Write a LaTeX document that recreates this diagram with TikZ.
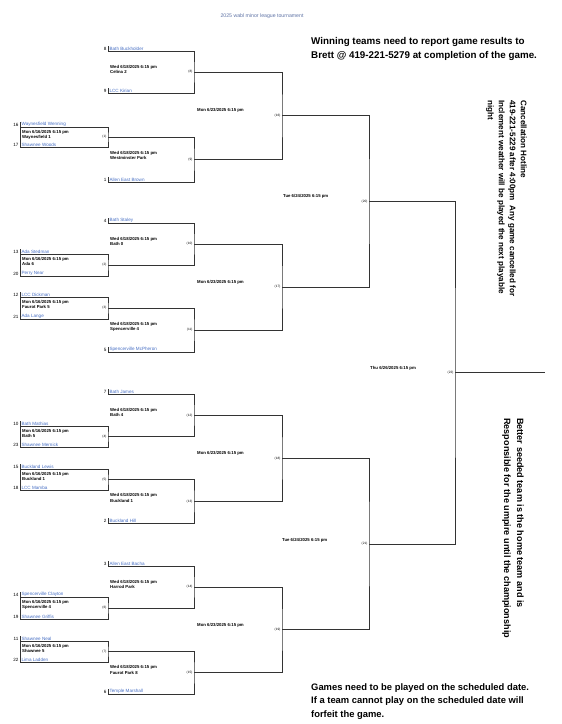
\documentclass[tikz,border=0pt]{standalone}
\usepackage{fontspec}
\setmainfont{Liberation Sans}
\definecolor{teamblue}{RGB}{70,110,195}
\definecolor{titleblue}{RGB}{95,115,165}
\newcommand{\playintime}{Mon 6/16/2025 6:15 pm}
\newcommand{\wedtime}{Wed 6/18/2025 6:15 pm}
\newcommand{\montime}{Mon 6/23/2025 6:15 pm}
\newcommand{\tuetime}{Tue 6/24/2025 6:15 pm}
\newcommand{\thutime}{Thu 6/26/2025 6:15 pm}
\tikzset{
  bline/.style={black!80, line width=0.9pt},
  team/.style={font=\fontsize{4.6}{5}\selectfont, text=teamblue, inner sep=0.4pt, anchor=south west},
  seed/.style={font=\fontsize{4.6}{5}\selectfont, inner sep=0.4pt, anchor=south east},
  info/.style={font=\bfseries\fontsize{4.3}{5.2}\selectfont, inner sep=0pt, anchor=north west, align=left},
  gno/.style={font=\fontsize{3.2}{3.5}\selectfont, inner sep=0.4pt, anchor=east},
  note/.style={font=\bfseries\fontsize{9.8}{14.5}\selectfont, inner sep=0pt, anchor=north west, align=left},
  vnote/.style={font=\bfseries\fontsize{8.1}{11}\selectfont, inner sep=0pt, anchor=north west, align=left, rotate=-90},
}
\begin{document}
\begin{tikzpicture}[x=1pt,y=-1pt]
\useasboundingbox (0,0) rectangle (562,724);
\node[font=\fontsize{5.2}{6}\selectfont, text=titleblue] (title) at (262,16) {2025 wabl minor league tournament};

% teams: seed/x/y/name
\foreach \s/\x/\y/\t in {8/108/51/Bath Buckholder, 9/108/93/LCC Kirian,
  16/20/127/Waynesfield Wenning, 17/20/147/Shawnee Woods, 1/108/182/Allen East Brown,
  4/108/223/Bath Staley, 13/20/254/Ada Stedman, 20/20/276/Perry Near,
  12/20/297/LCC Dickman, 21/20/319/Ada Lange, 5/108/352/Spencerville McPheron,
  7/108/394/Bath James, 10/20/426/Bath Mathias, 23/20/447/Shawnee Mernick,
  15/20/469/Buckland Lewis, 18/20/490/LCC Mamba, 2/108/523/Buckland Hill,
  3/108/566/Allen East Bacha, 14/20/597/Spencerville Clayton, 19/20/619/Shawnee Griffis,
  11/20/641/Shawnee Neal, 22/20/662/Lima Ladden, 6/108/694/Temple Marshall}{
  \coordinate (s\s) at (\x,\y);
  \draw[bline] (s\s) -- ++(0,-5);
  \node[seed] (seed\s) at ([xshift=-1pt]s\s) {\s};
  \node[team] (team\s) at ([xshift=1pt]s\s) {\t};
}

% game winners
\coordinate (g1) at (108,137);
\coordinate (g2) at (108,265);
\coordinate (g3) at (108,308);
\coordinate (g4) at (108,436.5);
\coordinate (g5) at (108,479.5);
\coordinate (g6) at (108,608);
\coordinate (g7) at (108,651.5);
\coordinate (g8) at (194,72);
\coordinate (g9) at (194,159.5);
\coordinate (g10) at (194,244);
\coordinate (g11) at (194,330);
\coordinate (g12) at (194,415.25);
\coordinate (g13) at (194,501.25);
\coordinate (g14) at (194,587);
\coordinate (g15) at (194,672.75);
\coordinate (g16) at (282,115.75);
\coordinate (g17) at (282,287);
\coordinate (g18) at (282,458.25);
\coordinate (g19) at (282,629.9);
\coordinate (g20) at (369,201.4);
\coordinate (g21) at (369,544.1);
\coordinate (g22) at (455,372.75);
\coordinate (champ) at (545,372.75);

% play-in games
\draw[bline] (s16) -| (g1) |- (s17) -- cycle;
\draw[bline] (s13) -| (g2) |- (s20) -- cycle;
\draw[bline] (s12) -| (g3) |- (s21) -- cycle;
\draw[bline] (s10) -| (g4) |- (s23) -- cycle;
\draw[bline] (s15) -| (g5) |- (s18) -- cycle;
\draw[bline] (s14) -| (g6) |- (s19) -- cycle;
\draw[bline] (s11) -| (g7) |- (s22) -- cycle;
% second round
\draw[bline] (s8) -| (g8) |- (s9);
\draw[bline] (g1) -| (g9) |- (s1);
\draw[bline] (s4) -| (g10) |- (g2);
\draw[bline] (g3) -| (g11) |- (s5);
\draw[bline] (s7) -| (g12) |- (g4);
\draw[bline] (g5) -| (g13) |- (s2);
\draw[bline] (s3) -| (g14) |- (g6);
\draw[bline] (g7) -| (g15) |- (s6);
% later rounds
\draw[bline] (g8) -| (g16) |- (g9);
\draw[bline] (g10) -| (g17) |- (g11);
\draw[bline] (g12) -| (g18) |- (g13);
\draw[bline] (g14) -| (g19) |- (g15);
\draw[bline] (g16) -| (g20) |- (g17);
\draw[bline] (g18) -| (g21) |- (g19);
\draw[bline] (g20) -| (g22) |- (g21);
\draw[bline] (g22) -- (champ);

\foreach \g in {1,...,22}
  \node[gno] (num\g) at ([xshift=-1pt]g\g) {(\g)};

% times and results
\foreach \g/\y/\r in {1/130/Waynesfield 1, 2/257/Ada 6, 3/300/Faurot Park 5, 4/429/Bath 5,
  5/472/Buckland 1, 6/600/Spencerville 4, 7/644/Shawnee 5}
  \node[info] (info\g) at (22,\y) {\playintime\\\r};
\foreach \g/\y/\r in {8/65/Celina 2, 9/151/Westminster Park, 10/237/Bath 0, 11/322/Spencerville 4,
  12/408/Bath 4, 13/493.5/Buckland 1, 14/580/Harrod Park, 15/665.5/Faurot Park 8}
  \node[info] (info\g) at (110,\y) {\wedtime\\\r};
\foreach \g in {16,...,19}
  \node[info, anchor=west] (info\g) at ([xshift=-85pt,yshift=5pt]g\g) {\montime};
\node[info, anchor=west] (info20) at ([xshift=-86pt,yshift=5pt]g20) {\tuetime};
\node[info, anchor=west] (info21) at ([xshift=-87pt,yshift=4pt]g21) {\tuetime};
\node[info, anchor=west] (info22) at ([xshift=-85pt,yshift=4pt]g22) {\thutime};

% notes
\node[note] (report) at (311,37) {Winning teams need to report game results to\\Brett @ 419-221-5279 at completion of the game.};
\node[note, font=\bfseries\fontsize{9.4}{13.5}\selectfont] (forfeit) at (311,683) {Games need to be played on the scheduled date.\\If a team cannot play on the scheduled date will\\forfeit the game.};
\node[vnote] (hotline) at (527,100) {Cancellation Hotline\\419-221-5229 after 4:00pm\ \ Any game cancelled for\\Inclement weather will be played the next playable\\night};
\node[vnote, font=\bfseries\fontsize{9.1}{13}\selectfont] (umpire) at (524,418) {Better seeded team is the home team and is\\Responsible for the umpire until the championship};
\end{tikzpicture}
\end{document}
